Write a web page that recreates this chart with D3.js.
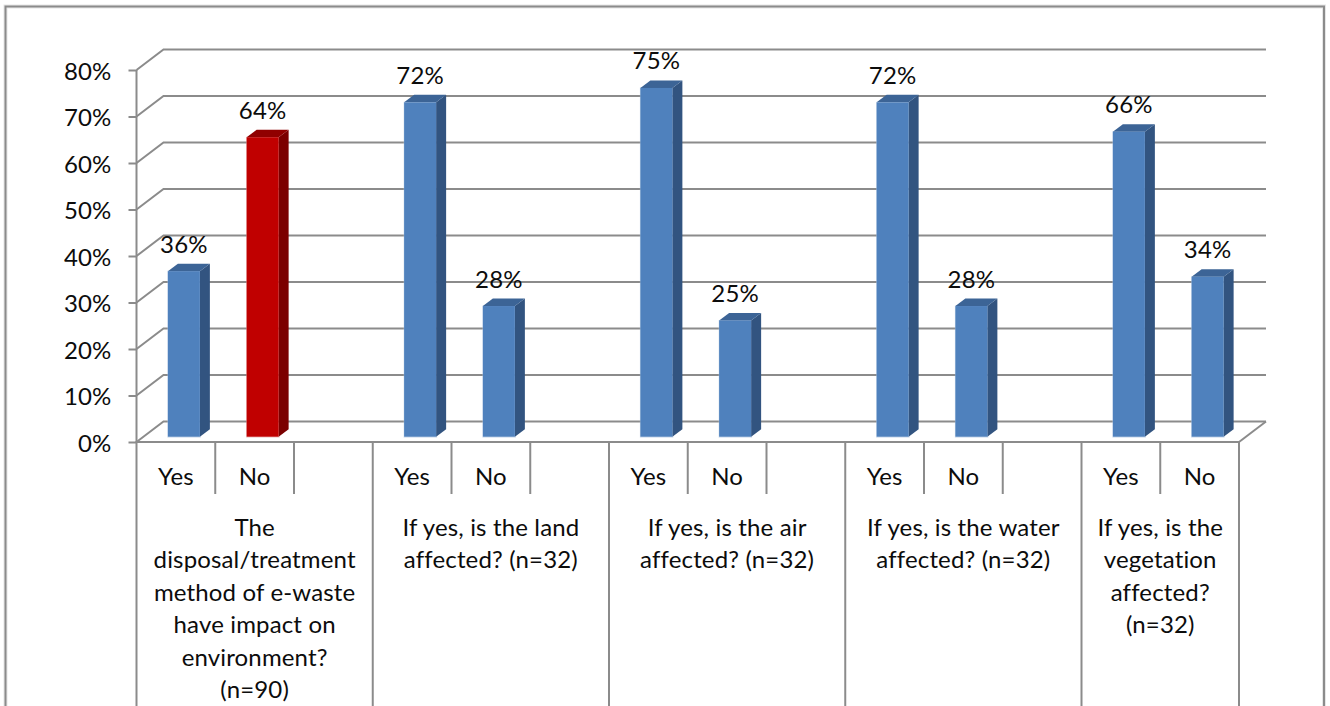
<!DOCTYPE html>
<html><head><meta charset="utf-8">
<script src="https://cdn.jsdelivr.net/npm/d3@7/dist/d3.min.js"></script>
<style>html,body{margin:0;padding:0;background:#fff}svg{display:block}text{font-family:Lato,"Open Sans",sans-serif;fill:#0c0c0c;letter-spacing:.15px}</style>
</head><body><svg id="c" width="1330" height="706"></svg>
<script>
const slots = ["g0y","g0n","g0x","g1y","g1n","g1x","g2y","g2n","g2x","g3y","g3n","g3x","g4y","g4n"];
const answers = ["Yes","No"];
const valueTicks = [0,10,20,30,40,50,60,70,80];
const barSlots = ["g0y","g0n","g1y","g1n","g2y","g2n","g3y","g3n","g4y","g4n"];
const barValues = [35.6,64.4,71.9,28.1,75,25,71.9,28.1,65.6,34.4];
const barLabels = ["36%","64%","72%","28%","75%","25%","72%","28%","66%","34%"];
const barHighlight = ["g0n"];
const groupSlots = [["g0y","g0n","g0x"],["g1y","g1n","g1x"],["g2y","g2n","g2x"],["g3y","g3n","g3x"],["g4y","g4n"]];
const groupLabels = [
  ["The","disposal/treatment","method of e-waste","have impact on","environment?","(n=90)"],
  ["If yes, is the land","affected? (n=32)"],
  ["If yes, is the air","affected? (n=32)"],
  ["If yes, is the water","affected? (n=32)"],
  ["If yes, is the","vegetation","affected?","(n=32)"]
];

const W=1330,H=706,fs=24;
const svg=d3.select("#c");
const x=d3.scaleBand().domain(slots).range([136.5,1239]);
const y=d3.scaleLinear().domain([0,80]).range([442,70]);
const depthX=27,depthY=-20.5,barDx=8,barDy=-5.3,barW=32,sideX=10,sideY=-7.5;
const grey="#8b8b8b";

// outer frame
svg.append("path").attr("d",`M5.5,${H}V6.5H1324V${H}`).attr("fill","none").attr("stroke","#e6e6e6").attr("stroke-width",4);
svg.append("path").attr("d",`M5.5,${H}V6.5H1324V${H}`).attr("fill","none").attr("stroke",grey).attr("stroke-width",2);

// back wall gridlines and side wall
const grid=svg.append("g").attr("fill","none").attr("stroke",grey).attr("stroke-width",2);
valueTicks.forEach(t=>{
  const yy=y(t);
  grid.append("path").attr("d",`M${x.range()[0]},${yy}L${x.range()[0]+depthX},${yy+depthY}H${x.range()[1]+depthX}`);
});
// floor
grid.append("path").attr("d",`M${x.range()[1]},${y(0)}L${x.range()[1]+depthX},${y(0)+depthY}`);

// bars
const bars=svg.append("g");
barSlots.forEach((s,i)=>{
  const v=barValues[i],hot=barHighlight.includes(s);
  const cx=x(s)+x.bandwidth()/2+barDx,l=cx-barW/2,r=cx+barW/2;
  const top=y(v)+barDy,bot=y(0)+barDy;
  const front=hot?"#c00000":"#4f81bd",side=hot?"#7b0000":"#325480",cap=hot?"#900000":"#3c6496";
  const edge=hot?"#e8b0b0":"#b8cce4";
  bars.append("rect").attr("x",l-.5).attr("y",top-.5).attr("width",barW+1.5).attr("height",bot-top+1.5).attr("fill",edge).attr("opacity",.6);
  bars.append("path").attr("d",`M${r},${top}L${r+sideX},${top+sideY}V${bot+sideY}L${r},${bot}Z`).attr("fill",side);
  bars.append("path").attr("d",`M${l},${top}L${l+sideX},${top+sideY}H${r+sideX}L${r},${top}Z`).attr("fill",cap);
  bars.append("rect").attr("x",l).attr("y",top).attr("width",barW).attr("height",bot-top).attr("fill",front);
  svg.append("text").attr("x",cx).attr("y",top-18.5).attr("text-anchor","middle").attr("font-size",fs).text(barLabels[i]);
});

// y axis
const yAxis=d3.axisLeft(y).tickValues(valueTicks).tickSize(8).tickPadding(17).tickFormat(d=>d+"%");
const ag=svg.append("g").attr("transform",`translate(${x.range()[0]},0)`).call(yAxis);
ag.select(".domain").remove();
ag.selectAll("line").attr("stroke",grey).attr("stroke-width",2);
ag.selectAll("text").attr("font-size",fs).attr("dy",null).attr("dominant-baseline",null).attr("y",9);

const lines=svg.append("g").attr("stroke",grey).attr("stroke-width",2);
lines.append("line").attr("x1",x.range()[0]).attr("x2",x.range()[0]).attr("y1",y(80)).attr("y2",H);
lines.append("line").attr("x1",x.range()[0]-1).attr("x2",x.range()[1]+1).attr("y1",y(0)).attr("y2",y(0));

// multi-level category axis
const gTop=y(0),subBot=494;
groupSlots.forEach((g,gi)=>{
  const left=x(g[0]),right=x(g[g.length-1])+x.bandwidth();
  lines.append("line").attr("x1",right).attr("x2",right).attr("y1",gTop).attr("y2",H);
  g.forEach((s,si)=>{
    if(si<g.length-1) lines.append("line").attr("x1",x(s)+x.bandwidth()).attr("x2",x(s)+x.bandwidth()).attr("y1",gTop).attr("y2",subBot);
    if(si<answers.length) svg.append("text").attr("x",x(s)+x.bandwidth()/2).attr("y",485).attr("text-anchor","middle").attr("font-size",fs).text(answers[si]);
  });
  const t=svg.append("text").attr("text-anchor","middle").attr("font-size",fs);
  groupLabels[gi].forEach((ln,li)=>t.append("tspan").attr("x",(left+right)/2).attr("y",535.5+li*32.5).text(ln));
});
</script></body></html>
